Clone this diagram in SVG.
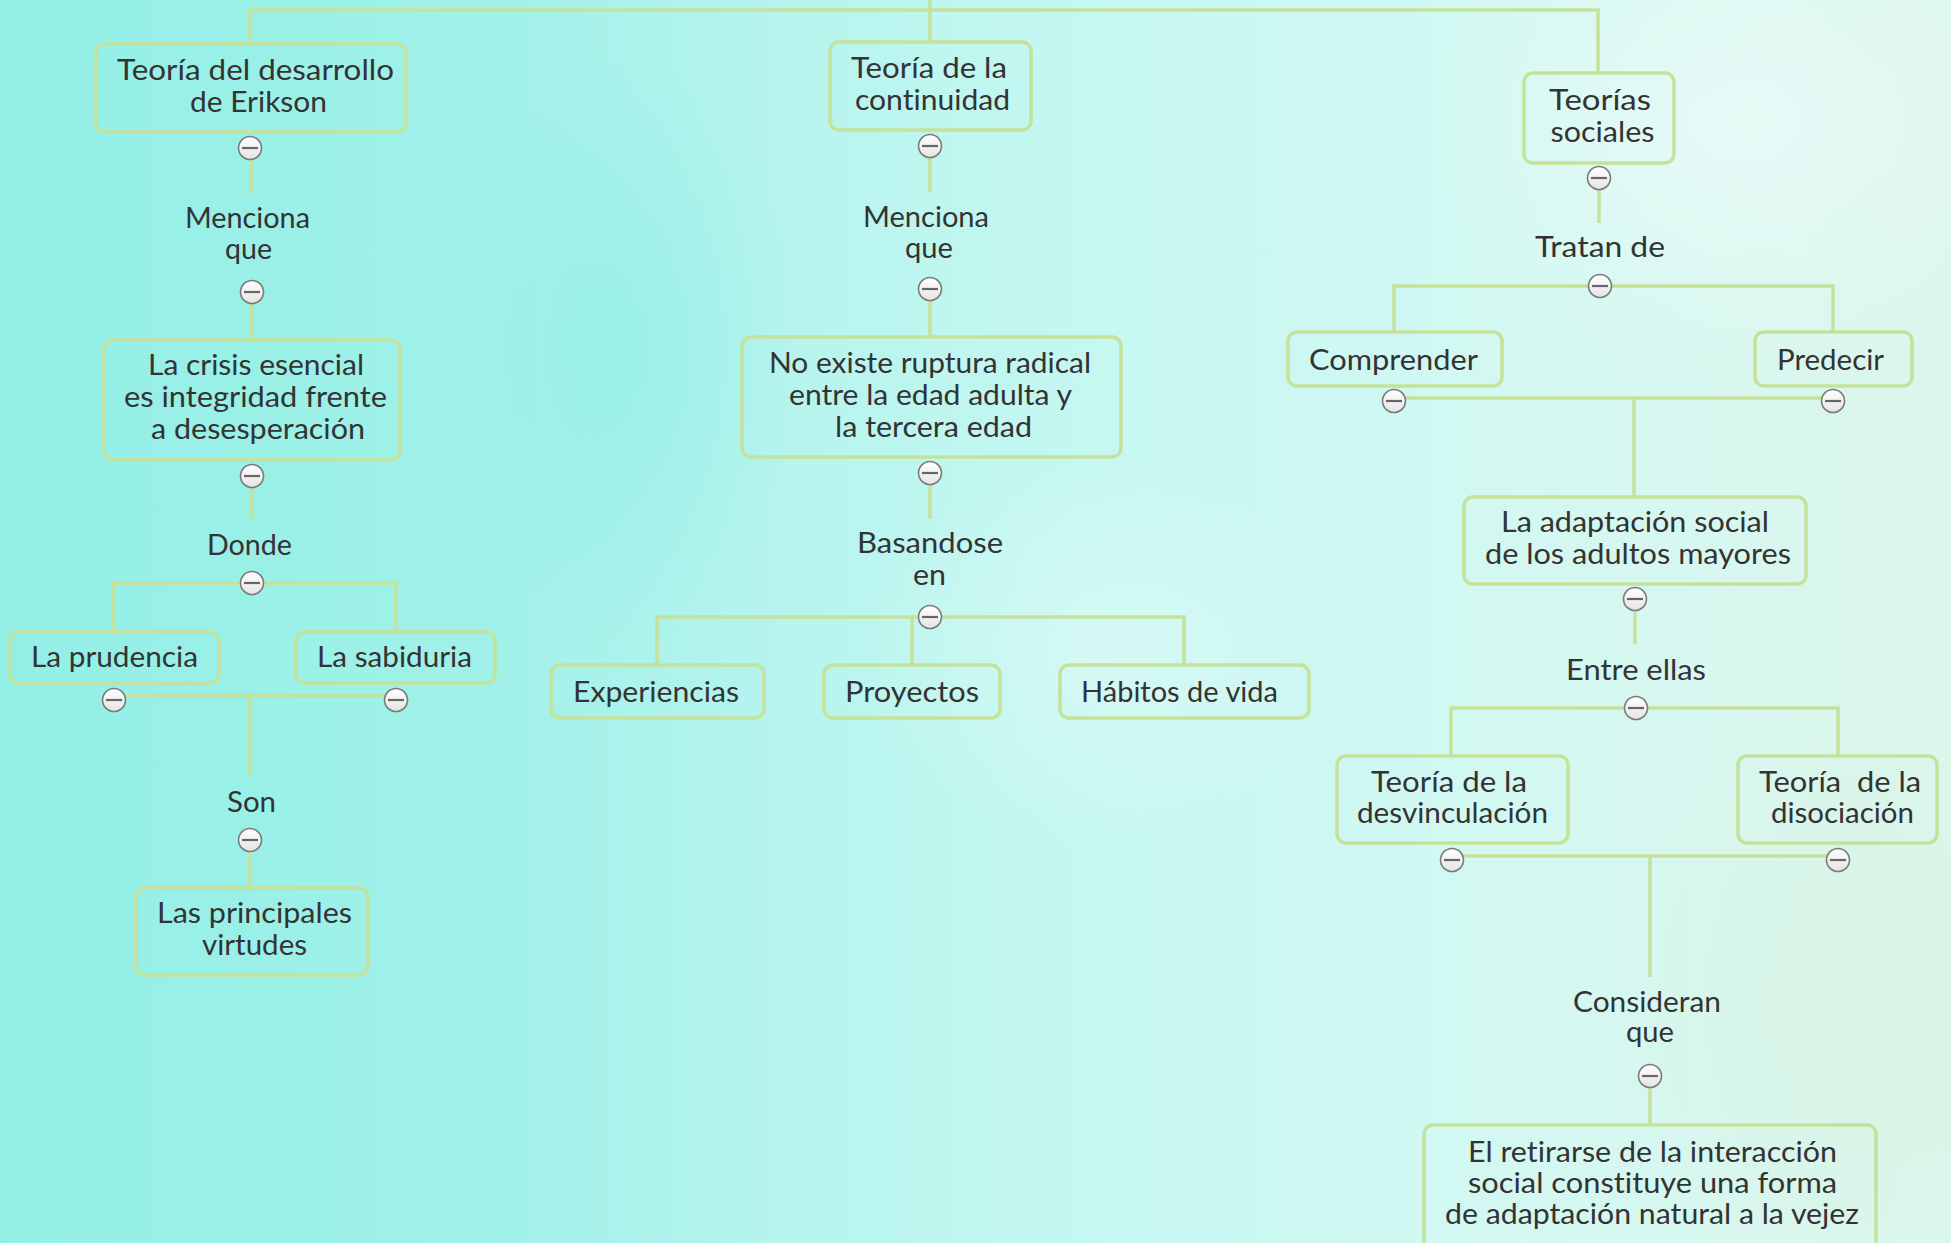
<svg xmlns="http://www.w3.org/2000/svg" width="1951" height="1243" viewBox="0 0 1951 1243">
<defs>
<linearGradient id="bg" x1="0" y1="0" x2="1" y2="0">
<stop offset="0" stop-color="#93efe6"/>
<stop offset="0.25" stop-color="#a0f1e9"/>
<stop offset="0.4" stop-color="#b6f4ee"/>
<stop offset="0.55" stop-color="#c5f7f1"/>
<stop offset="0.75" stop-color="#d2f8f2"/>
<stop offset="1" stop-color="#dcf6ec"/>
</linearGradient>
<radialGradient id="blot1" cx="0.5" cy="0.5" r="0.5">
<stop offset="0" stop-color="#e9fbf8" stop-opacity="0.9"/>
<stop offset="1" stop-color="#e9fbf8" stop-opacity="0"/>
</radialGradient>
<radialGradient id="blot2" cx="0.5" cy="0.5" r="0.5">
<stop offset="0" stop-color="#8eeee4" stop-opacity="0.6"/>
<stop offset="1" stop-color="#8eeee4" stop-opacity="0"/>
</radialGradient>
<radialGradient id="blot3" cx="0.5" cy="0.5" r="0.5">
<stop offset="0" stop-color="#d8f4e4" stop-opacity="0.9"/>
<stop offset="1" stop-color="#d8f4e4" stop-opacity="0"/>
</radialGradient>
<linearGradient id="btn" x1="0" y1="0" x2="0" y2="1">
<stop offset="0" stop-color="#ffffff"/>
<stop offset="1" stop-color="#e4e4e4"/>
</linearGradient>
<g id="tog">
<circle r="11.5" fill="url(#btn)" stroke="#7b7b7b" stroke-width="1.6"/>
<line x1="-8" y1="0" x2="8" y2="0" stroke="#666" stroke-width="2.2"/>
</g>
</defs>
<style>
.box{fill:none;stroke:#c5e29a;stroke-width:3.5}
.ln{fill:none;stroke:#c5e29a;stroke-width:3.5}
text{font-family:Lato,"Noto Sans","Liberation Sans",sans-serif;font-size:29px;fill:#333;text-anchor:middle;font-variant-ligatures:none}
</style>
<rect width="1951" height="1243" fill="url(#bg)"/>
<ellipse cx="1750" cy="120" rx="320" ry="260" fill="url(#blot1)"/>
<ellipse cx="620" cy="350" rx="180" ry="300" fill="url(#blot2)"/>
<ellipse cx="1880" cy="1000" rx="260" ry="300" fill="url(#blot3)"/>
<ellipse cx="1100" cy="650" rx="250" ry="200" fill="url(#blot1)" opacity="0.5"/>

<g id="connectors">
<path class="ln" d="M250,44 V10 H1598 V73"/>
<path class="ln" d="M930,0 V42"/>
<path class="ln" d="M251,160 V193"/>
<path class="ln" d="M252,304 V340"/>
<path class="ln" d="M252,488 V520"/>
<path class="ln" d="M113,632 V583 H396 V632"/>
<path class="ln" d="M114,696 H396 M250,696 V776"/>
<path class="ln" d="M250,852 V888"/>
<path class="ln" d="M930,158 V192"/>
<path class="ln" d="M930,301 V337"/>
<path class="ln" d="M930,485 V519"/>
<path class="ln" d="M657,665 V617 H1184 V665 M912,617 V665"/>
<path class="ln" d="M1599,190 V223"/>
<path class="ln" d="M1394,332 V286 H1833 V332"/>
<path class="ln" d="M1394,398 H1833 M1634,398 V497"/>
<path class="ln" d="M1635,611 V644"/>
<path class="ln" d="M1451,756 V708 H1838 V756"/>
<path class="ln" d="M1452,856 H1838 M1650,856 V977"/>
<path class="ln" d="M1650,1088 V1125"/>
</g>

<g id="n-erikson">
<rect class="box" x="96" y="44" width="310" height="88" rx="9"/>
<text><tspan x="255.5" y="80" textLength="277" lengthAdjust="spacingAndGlyphs">Teoría del desarrollo</tspan><tspan x="258.5" y="112" textLength="137" lengthAdjust="spacingAndGlyphs">de Erikson</tspan></text>
</g>
<g id="n-menciona1">
<text><tspan x="247.5" y="228" textLength="125" lengthAdjust="spacingAndGlyphs">Menciona</tspan><tspan x="248.5" y="259" textLength="47" lengthAdjust="spacingAndGlyphs">que</tspan></text>
</g>
<g id="n-crisis">
<rect class="box" x="104" y="340" width="296" height="120" rx="9"/>
<text><tspan x="256" y="375" textLength="216" lengthAdjust="spacingAndGlyphs">La crisis esencial</tspan><tspan x="255.5" y="407" textLength="263" lengthAdjust="spacingAndGlyphs">es integridad frente</tspan><tspan x="258" y="439" textLength="214" lengthAdjust="spacingAndGlyphs">a desesperación</tspan></text>
</g>
<g id="n-donde">
<text x="249.5" y="555" textLength="85" lengthAdjust="spacingAndGlyphs">Donde</text>
</g>
<g id="n-prudencia">
<rect class="box" x="10" y="632" width="209" height="51" rx="9"/>
<text x="114.5" y="667" textLength="167" lengthAdjust="spacingAndGlyphs">La prudencia</text>
</g>
<g id="n-sabiduria">
<rect class="box" x="296" y="632" width="199" height="51" rx="9"/>
<text x="394.5" y="667" textLength="155" lengthAdjust="spacingAndGlyphs">La sabiduria</text>
</g>
<g id="n-son">
<text x="251.5" y="812" textLength="49" lengthAdjust="spacingAndGlyphs">Son</text>
</g>
<g id="n-virtudes">
<rect class="box" x="136" y="888" width="232" height="87" rx="9"/>
<text><tspan x="254.5" y="923" textLength="195" lengthAdjust="spacingAndGlyphs">Las principales</tspan><tspan x="254.5" y="955" textLength="105" lengthAdjust="spacingAndGlyphs">virtudes</tspan></text>
</g>

<g id="n-continuidad">
<rect class="box" x="830" y="42" width="201" height="88" rx="9"/>
<text><tspan x="929" y="78" textLength="156" lengthAdjust="spacingAndGlyphs">Teoría de la</tspan><tspan x="932.5" y="110" textLength="155" lengthAdjust="spacingAndGlyphs">continuidad</tspan></text>
</g>
<g id="n-menciona2">
<text><tspan x="926" y="227" textLength="126" lengthAdjust="spacingAndGlyphs">Menciona</tspan><tspan x="929" y="258" textLength="48" lengthAdjust="spacingAndGlyphs">que</tspan></text>
</g>
<g id="n-noexiste">
<rect class="box" x="742" y="337" width="379" height="120" rx="9"/>
<text><tspan x="930" y="373" textLength="322" lengthAdjust="spacingAndGlyphs">No existe ruptura radical</tspan><tspan x="930.5" y="405" textLength="283" lengthAdjust="spacingAndGlyphs">entre la edad adulta y</tspan><tspan x="933.5" y="437" textLength="197" lengthAdjust="spacingAndGlyphs">la tercera edad</tspan></text>
</g>
<g id="n-basandose">
<text><tspan x="930" y="553" textLength="146" lengthAdjust="spacingAndGlyphs">Basandose</tspan><tspan x="929.5" y="585" textLength="33" lengthAdjust="spacingAndGlyphs">en</tspan></text>
</g>
<g id="n-experiencias">
<rect class="box" x="551" y="665" width="213" height="53" rx="9"/>
<text x="656" y="702" textLength="166" lengthAdjust="spacingAndGlyphs">Experiencias</text>
</g>
<g id="n-proyectos">
<rect class="box" x="824" y="665" width="176" height="53" rx="9"/>
<text x="912" y="702" textLength="134" lengthAdjust="spacingAndGlyphs">Proyectos</text>
</g>
<g id="n-habitos">
<rect class="box" x="1060" y="665" width="249" height="53" rx="9"/>
<text x="1179.5" y="702" textLength="197" lengthAdjust="spacingAndGlyphs">Hábitos de vida</text>
</g>

<g id="n-sociales">
<rect class="box" x="1524" y="73" width="150" height="90" rx="9"/>
<text><tspan x="1600" y="110" textLength="102" lengthAdjust="spacingAndGlyphs">Teorías</tspan><tspan x="1602.5" y="142" textLength="104" lengthAdjust="spacingAndGlyphs">sociales</tspan></text>
</g>
<g id="n-tratan">
<text x="1600" y="257" textLength="130" lengthAdjust="spacingAndGlyphs">Tratan de</text>
</g>
<g id="n-comprender">
<rect class="box" x="1288" y="332" width="214" height="54" rx="9"/>
<text x="1393.5" y="370" textLength="169" lengthAdjust="spacingAndGlyphs">Comprender</text>
</g>
<g id="n-predecir">
<rect class="box" x="1755" y="332" width="157" height="54" rx="9"/>
<text x="1830.5" y="370" textLength="107" lengthAdjust="spacingAndGlyphs">Predecir</text>
</g>
<g id="n-adaptacion">
<rect class="box" x="1464" y="497" width="342" height="87" rx="9"/>
<text><tspan x="1635" y="532" textLength="268" lengthAdjust="spacingAndGlyphs">La adaptación social</tspan><tspan x="1638" y="564" textLength="306" lengthAdjust="spacingAndGlyphs">de los adultos mayores</tspan></text>
</g>
<g id="n-entre">
<text x="1636" y="680" textLength="140" lengthAdjust="spacingAndGlyphs">Entre ellas</text>
</g>
<g id="n-desvinculacion">
<rect class="box" x="1337" y="756" width="231" height="87" rx="9"/>
<text><tspan x="1449" y="792" textLength="156" lengthAdjust="spacingAndGlyphs">Teoría de la</tspan><tspan x="1452.5" y="823" textLength="191" lengthAdjust="spacingAndGlyphs">desvinculación</tspan></text>
</g>
<g id="n-disociacion">
<rect class="box" x="1738" y="756" width="199" height="87" rx="9"/>
<text xml:space="preserve"><tspan x="1840" y="792" textLength="162" lengthAdjust="spacingAndGlyphs">Teoría  de la</tspan><tspan x="1842.5" y="823" textLength="143" lengthAdjust="spacingAndGlyphs">disociación</tspan></text>
</g>
<g id="n-consideran">
<text><tspan x="1647" y="1012" textLength="148" lengthAdjust="spacingAndGlyphs">Consideran</tspan><tspan x="1650" y="1042" textLength="48" lengthAdjust="spacingAndGlyphs">que</tspan></text>
</g>
<g id="n-retirarse">
<rect class="box" x="1424" y="1125" width="452" height="140" rx="9"/>
<text><tspan x="1652.5" y="1162" textLength="369" lengthAdjust="spacingAndGlyphs">El retirarse de la interacción</tspan><tspan x="1652.5" y="1193" textLength="369" lengthAdjust="spacingAndGlyphs">social constituye una forma</tspan><tspan x="1652" y="1224" textLength="414" lengthAdjust="spacingAndGlyphs">de adaptación natural a la vejez</tspan></text>
</g>

<g id="toggles">
<use href="#tog" x="250" y="148"/>
<use href="#tog" x="252" y="292"/>
<use href="#tog" x="252" y="476"/>
<use href="#tog" x="252" y="583"/>
<use href="#tog" x="114" y="700"/>
<use href="#tog" x="396" y="700"/>
<use href="#tog" x="250" y="840"/>
<use href="#tog" x="930" y="146"/>
<use href="#tog" x="930" y="289"/>
<use href="#tog" x="930" y="473"/>
<use href="#tog" x="930" y="617"/>
<use href="#tog" x="1599" y="178"/>
<use href="#tog" x="1600" y="286"/>
<use href="#tog" x="1394" y="401"/>
<use href="#tog" x="1833" y="401"/>
<use href="#tog" x="1635" y="599"/>
<use href="#tog" x="1636" y="708"/>
<use href="#tog" x="1452" y="860"/>
<use href="#tog" x="1838" y="860"/>
<use href="#tog" x="1650" y="1076"/>
</g>
</svg>
